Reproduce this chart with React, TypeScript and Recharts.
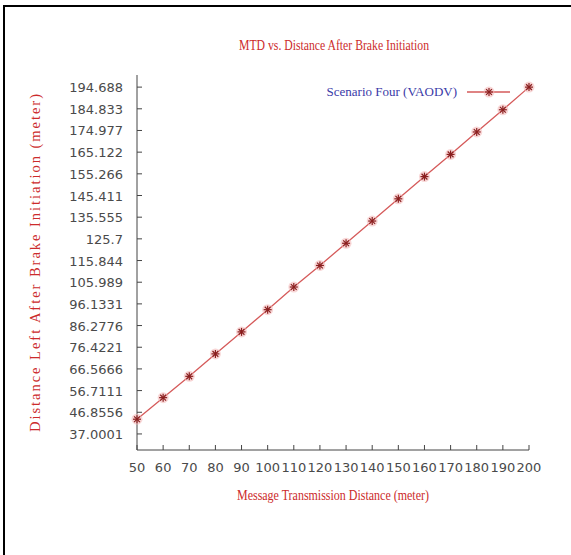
import React from 'react';
import { LineChart, Line, XAxis, YAxis, Legend, Label } from 'recharts';

const mtd = [50, 60, 70, 80, 90, 100, 110, 120, 130, 140, 150, 160, 170, 180, 190, 200];
const distanceLeft = [43.7, 53.5, 63.2, 73.4, 83.4, 93.5, 103.8, 113.6, 123.7, 133.8, 143.9, 154.0, 164.1, 174.3, 184.4, 194.688];
const xTicks = [50, 60, 70, 80, 90, 100, 110, 120, 130, 140, 150, 160, 170, 180, 190, 200];
const yTicks = [37.0001, 46.8556, 56.7111, 66.5666, 76.4221, 86.2776, 96.1331, 105.989, 115.844, 125.7, 135.555, 145.411, 155.266, 165.122, 174.977, 184.833, 194.688];
const seriesName = 'Scenario Four (VAODV)';
const titleText = 'MTD vs. Distance After Brake Initiation';
const xLabelText = 'Message Transmission Distance (meter)';
const yLabelText = 'Distance Left After Brake Initiation (meter)';

const data = mtd.map((m, i) => ({ mtd: m, dist: distanceLeft[i] }));

const RED = '#cc2b2b';
const LINE = '#d55a5a';
const TICKCOL = '#4a4a4a';
const FRAME = '#444';

const Star = ({ cx, cy }: any) => {
  if (cx == null || cy == null) return null;
  const r = 4;
  const d = 2.9;
  return (
    <g>
      <circle cx={cx} cy={cy} r={5.5} fill="#f2b4b4" opacity={0.55} />
      <line x1={cx - r} y1={cy} x2={cx + r} y2={cy} stroke="#8a1f1f" strokeWidth={1.2} />
      <line x1={cx} y1={cy - r} x2={cx} y2={cy + r} stroke="#8a1f1f" strokeWidth={1.2} />
      <line x1={cx - d} y1={cy - d} x2={cx + d} y2={cy + d} stroke="#8a1f1f" strokeWidth={1.2} />
      <line x1={cx - d} y1={cy + d} x2={cx + d} y2={cy - d} stroke="#8a1f1f" strokeWidth={1.2} />
    </g>
  );
};

const BottomTick = ({ x, y, payload }: any) => (
  <g>
    <line x1={x} y1={y} x2={x} y2={y - 5} stroke={FRAME} strokeWidth={1} />
    <text x={x} y={y + 22} textAnchor="middle" fontFamily="DejaVu Sans" fontSize={13} fill={TICKCOL}>
      {payload.value}
    </text>
  </g>
);
const TopTick = ({ x, y }: any) => (
  <line x1={x} y1={y} x2={x} y2={y + 5} stroke={FRAME} strokeWidth={1} />
);
const LeftTick = ({ x, y, payload }: any) => (
  <g>
    <line x1={x} y1={y} x2={x + 5} y2={y} stroke={FRAME} strokeWidth={1} />
    <text x={x - 14} y={y + 5} textAnchor="end" fontFamily="DejaVu Sans" fontSize={13} fill={TICKCOL}>
      {String(payload.value)}
    </text>
  </g>
);
const RightTick = ({ x, y }: any) => (
  <line x1={x} y1={y} x2={x - 5} y2={y} stroke={FRAME} strokeWidth={1} />
);

const LegendContent = () => (
  <div style={{ display: 'flex', alignItems: 'center', justifyContent: 'flex-end' }}>
    <span style={{ fontFamily: 'Liberation Serif', fontSize: 13, color: '#3a3aa8', marginRight: 10 }}>{seriesName}</span>
    <svg width={44} height={14}>
      <line x1={0} y1={7} x2={43} y2={7} stroke={LINE} strokeWidth={1.3} />
      <Star cx={22} cy={7} />
    </svg>
  </div>
);

export default function App() {
  return (
    <div style={{ position: 'fixed', left: 0, top: 0, width: 571, height: 555, overflow: 'hidden', background: '#fff' }}>
      <div style={{ position: 'absolute', left: 3, top: 5, width: 700, height: 700, borderLeft: '2px solid #000', borderTop: '2px solid #000' }} />
      <div style={{ position: 'absolute', left: 0, top: 0 }}>
        <LineChart width={571} height={555} data={data} margin={{ top: 75, right: 42, bottom: 0, left: 0 }}>
          <text x={334} y={50} textAnchor="middle" fontFamily="Liberation Serif" fontSize={15} fill={RED} textLength={190} lengthAdjust="spacingAndGlyphs">
            {titleText}
          </text>
          <XAxis
            xAxisId="b"
            dataKey="mtd"
            type="number"
            domain={[50, 200]}
            ticks={xTicks}
            interval={0}
            orientation="bottom"
            height={105}
            tickSize={0}
            tickMargin={0}
            tickLine={false}
            axisLine={{ stroke: FRAME, strokeWidth: 1 }}
            tick={<BottomTick />}
          >
            <Label
              content={() => (
                <text x={333} y={500} textAnchor="middle" fontFamily="Liberation Serif" fontSize={15} fill={RED} textLength={192} lengthAdjust="spacingAndGlyphs">
                  {xLabelText}
                </text>
              )}
            />
          </XAxis>
          <XAxis
            xAxisId="t"
            dataKey="mtd"
            type="number"
            domain={[50, 200]}
            ticks={xTicks}
            interval={0}
            orientation="top"
            height={0}
            tickSize={0}
            tickMargin={0}
            tickLine={false}
            axisLine={{ stroke: FRAME, strokeWidth: 1 }}
            tick={<TopTick />}
          />
          <YAxis
            yAxisId="l"
            type="number"
            domain={[29.7, 200.2]}
            allowDataOverflow
            ticks={yTicks}
            interval={0}
            orientation="left"
            width={137}
            tickSize={0}
            tickMargin={0}
            tickLine={false}
            axisLine={{ stroke: FRAME, strokeWidth: 1 }}
            tick={<LeftTick />}
          >
            <Label
              content={() => (
                <text
                  x={35}
                  y={263}
                  transform="rotate(-90, 35, 263)"
                  textAnchor="middle"
                  dominantBaseline="central"
                  fontFamily="Liberation Serif"
                  fontSize={14.5}
                  fill={RED}
                  textLength={338}
                  lengthAdjust="spacing"
                >
                  {yLabelText}
                </text>
              )}
            />
          </YAxis>
          <YAxis
            yAxisId="r"
            type="number"
            domain={[29.7, 200.2]}
            allowDataOverflow
            ticks={yTicks}
            interval={0}
            orientation="right"
            width={0}
            tickSize={0}
            tickMargin={0}
            tickLine={false}
            axisLine={{ stroke: FRAME, strokeWidth: 1 }}
            tick={<RightTick />}
          />
          <Legend
            layout="vertical"
            verticalAlign="middle"
            align="center"
            content={<LegendContent />}
            wrapperStyle={{ position: 'absolute', top: 84, left: 230, width: 281, height: 16 }}
          />
          <Line
            xAxisId="b"
            yAxisId="l"
            dataKey="dist"
            name={seriesName}
            stroke={LINE}
            strokeWidth={1.3}
            dot={<Star />}
            activeDot={false}
            isAnimationActive={false}
          />
        </LineChart>
      </div>
    </div>
  );
}
